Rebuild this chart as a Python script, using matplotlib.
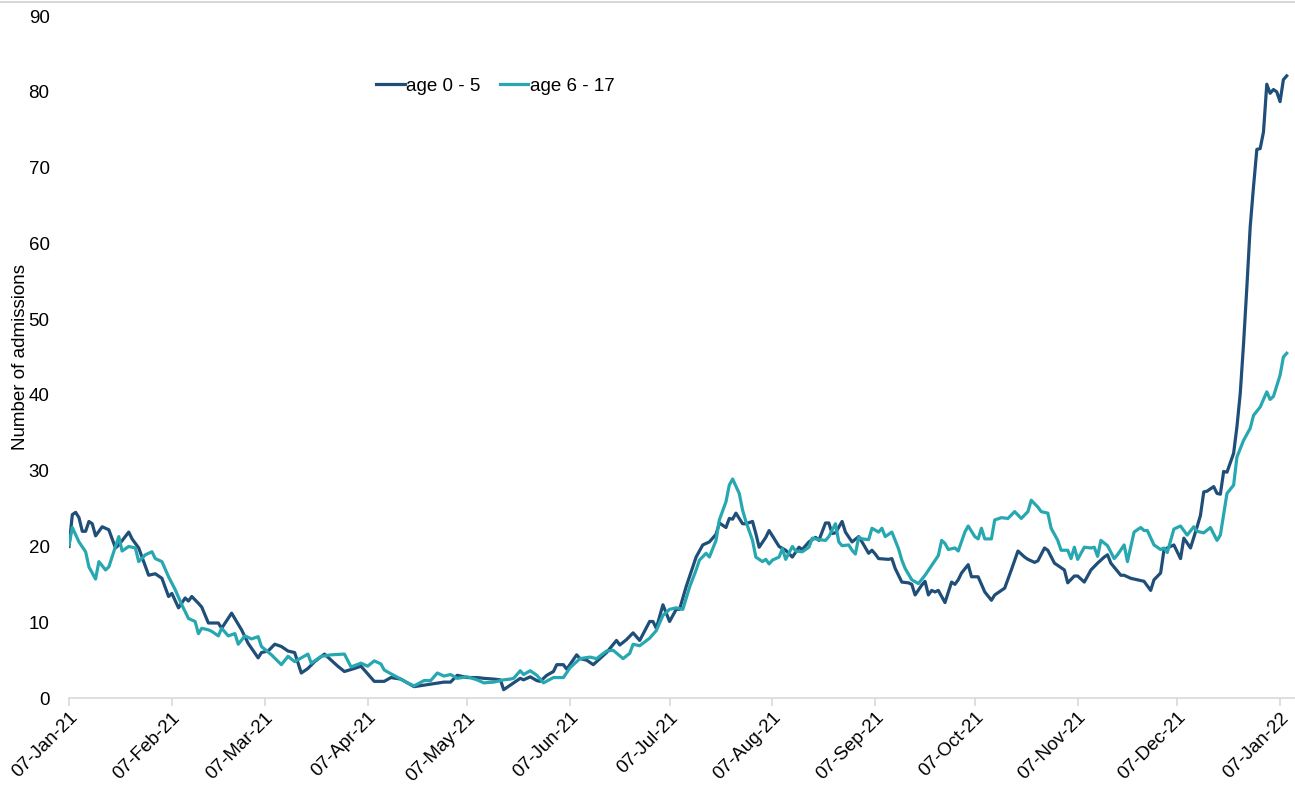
import matplotlib
matplotlib.use("Agg")
import matplotlib.pyplot as plt
import matplotlib.dates as mdates
import pandas as pd

# 날짜: 2021-01-07 기준 경과일
start = pd.Timestamp("2021-01-07")

days_0_5 = [0, 1, 2, 3, 4, 5, 6, 7, 8, 10, 12, 14, 15, 18, 19, 21, 24, 26, 28, 30,
            31, 33, 35, 36, 37, 39, 40, 42, 44, 45, 46, 49, 52, 54, 57, 58, 60, 62, 64, 66,
            68, 70, 72, 74, 77, 79, 81, 83, 86, 88, 90, 92, 95, 97, 100, 102, 104, 107, 110, 113,
            115, 117, 120, 123, 125, 128, 130, 131, 134, 136, 137, 139, 141, 142, 144, 146, 147, 149, 150, 153,
            154, 156, 158, 160, 162, 165, 166, 168, 170, 172, 175, 176, 177, 179, 181, 183, 184, 186, 188, 189,
            191, 193, 195, 196, 198, 199, 200, 201, 203, 204, 206, 207, 208, 210, 211, 213, 214, 216, 218, 220,
            221, 223, 225, 226, 228, 229, 230, 231, 233, 234, 236, 238, 239, 241, 242, 243, 244, 247, 248, 249,
            251, 253, 254, 255, 257, 258, 259, 260, 261, 262, 264, 266, 267, 268, 269, 271, 272, 274, 276, 278,
            279, 281, 282, 284, 286, 288, 289, 291, 292, 294, 295, 297, 300, 301, 303, 304, 306, 308, 310, 312,
            313, 314, 317, 318, 320, 322, 324, 326, 327, 329, 330, 331, 333, 335, 336, 338, 340, 341, 342, 343,
            345, 346, 347, 348, 349, 351, 352, 353, 354, 355, 356, 357, 358, 359, 360, 361, 362, 363, 364, 365,
            366, 367]
age_0_5 = [20.0, 24.2, 24.5, 23.8, 22.0, 22.0, 23.3, 23.0, 21.4, 22.6, 22.2, 19.8, 20.2, 21.9, 21.0, 19.8, 16.2, 16.4, 15.8, 13.4,
           13.8, 11.9, 13.2, 12.8, 13.4, 12.5, 12.0, 9.9, 9.9, 9.9, 9.2, 11.2, 9.0, 7.2, 5.3, 6.0, 6.2, 7.1, 6.8, 6.2,
           6.0, 3.3, 3.9, 4.8, 5.8, 5.0, 4.2, 3.5, 3.9, 4.2, 3.2, 2.2, 2.2, 2.7, 2.5, 2.0, 1.5, 1.7, 1.9, 2.1,
           2.1, 3.0, 2.7, 2.7, 2.6, 2.5, 2.4, 1.1, 2.0, 2.6, 2.4, 2.8, 2.3, 2.2, 3.0, 3.5, 4.4, 4.4, 3.8, 5.7,
           5.2, 5.0, 4.4, 5.2, 6.0, 7.6, 7.0, 7.7, 8.6, 7.6, 10.1, 10.1, 9.2, 12.3, 10.1, 11.7, 11.7, 14.7, 17.3, 18.6,
           20.2, 20.6, 21.6, 23.1, 22.5, 23.7, 23.6, 24.4, 23.0, 23.0, 23.3, 21.7, 19.9, 21.2, 22.1, 20.7, 20.0, 19.5, 18.6, 19.9,
           19.6, 20.6, 21.2, 20.8, 23.1, 23.1, 21.7, 21.8, 23.3, 21.9, 20.6, 21.3, 20.6, 19.1, 19.5, 19.0, 18.4, 18.3, 18.4, 17.1,
           15.3, 15.2, 15.0, 13.6, 14.9, 15.4, 13.6, 14.2, 14.0, 14.2, 12.6, 15.3, 15.0, 15.6, 16.5, 17.6, 16.0, 16.0, 14.0, 12.9,
           13.6, 14.2, 14.5, 16.9, 19.4, 18.6, 18.3, 17.9, 18.1, 19.8, 19.5, 17.8, 16.9, 15.2, 16.1, 16.1, 15.3, 16.9, 17.8, 18.6,
           18.9, 17.8, 16.2, 16.2, 15.8, 15.6, 15.4, 14.2, 15.6, 16.5, 19.5, 19.8, 20.2, 18.4, 21.1, 19.8, 22.6, 24.1, 27.2, 27.3,
           27.9, 27.0, 26.9, 29.9, 29.8, 32.3, 35.8, 40.2, 46.8, 54.3, 62.2, 67.5, 72.4, 72.5, 74.7, 81.0, 79.8, 80.3, 80.0, 78.7,
           81.6, 82.1]

days_6_17 = [0, 1, 3, 5, 6, 8, 9, 11, 12, 14, 15, 16, 18, 20, 21, 23, 25, 26, 28, 30,
             32, 34, 36, 38, 39, 40, 42, 43, 45, 46, 48, 50, 51, 53, 55, 57, 58, 61, 64, 66,
             68, 72, 73, 76, 79, 83, 85, 88, 90, 92, 94, 95, 97, 100, 102, 104, 107, 109, 111, 113,
             115, 117, 120, 123, 125, 128, 131, 133, 134, 136, 137, 139, 141, 143, 146, 149, 151, 154, 157, 159,
             162, 164, 167, 169, 170, 172, 175, 177, 179, 181, 183, 185, 187, 189, 190, 192, 193, 195, 196, 198,
             199, 200, 202, 203, 204, 206, 207, 209, 210, 211, 212, 214, 215, 216, 218, 219, 221, 223, 224, 226,
             228, 229, 231, 232, 233, 235, 236, 237, 238, 239, 241, 242, 244, 245, 246, 248, 250, 251, 252, 254,
             256, 258, 260, 262, 263, 264, 265, 267, 268, 270, 271, 273, 274, 275, 276, 278, 279, 281, 283, 285,
             287, 289, 290, 292, 293, 295, 296, 298, 299, 301, 302, 303, 304, 306, 308, 309, 310, 311, 313, 315,
             316, 318, 319, 321, 323, 324, 325, 327, 329, 330, 331, 333, 335, 337, 339, 340, 342, 344, 346, 347,
             349, 351, 352, 354, 356, 357, 359, 361, 362, 363, 365, 366, 367]
age_6_17 = [20.2, 22.5, 20.6, 19.3, 17.3, 15.7, 18.0, 16.9, 17.3, 20.0, 21.3, 19.4, 20.0, 19.8, 18.0, 18.9, 19.3, 18.4, 18.0, 16.0,
            14.3, 12.3, 10.5, 10.1, 8.5, 9.2, 9.0, 8.8, 8.2, 9.2, 8.2, 8.5, 7.1, 8.2, 7.8, 8.1, 6.8, 5.7, 4.4, 5.5,
            4.8, 5.8, 4.6, 5.5, 5.7, 5.8, 4.1, 4.6, 4.2, 4.9, 4.5, 3.7, 3.2, 2.5, 2.0, 1.6, 2.3, 2.3, 3.3, 2.9,
            3.1, 2.6, 2.8, 2.4, 2.0, 2.1, 2.4, 2.5, 2.6, 3.6, 3.1, 3.6, 3.0, 2.0, 2.7, 2.7, 4.0, 5.2, 5.4, 5.2,
            6.2, 6.3, 5.2, 5.9, 7.1, 6.9, 7.9, 8.9, 10.9, 11.7, 11.9, 11.7, 14.6, 16.9, 18.2, 19.1, 18.6, 20.8, 23.5, 25.9,
            28.1, 28.9, 27.0, 24.8, 23.3, 20.8, 18.6, 18.0, 18.3, 17.7, 18.2, 18.6, 19.7, 18.3, 20.0, 19.4, 19.3, 19.9, 21.1, 20.9,
            20.8, 21.3, 23.0, 20.6, 20.1, 20.2, 19.5, 19.0, 21.2, 21.0, 20.9, 22.4, 21.9, 22.4, 21.3, 21.9, 19.7, 18.2, 17.1, 15.6,
            15.1, 16.2, 17.5, 18.8, 20.8, 20.4, 19.6, 19.8, 19.4, 21.9, 22.7, 21.3, 21.0, 22.4, 21.0, 21.0, 23.5, 23.8, 23.7, 24.6,
            23.7, 24.6, 26.1, 25.2, 24.6, 24.4, 22.4, 20.8, 19.5, 19.5, 18.4, 19.9, 18.3, 19.9, 19.8, 19.9, 18.7, 20.8, 20.1, 18.4,
            18.9, 20.2, 18.0, 21.9, 22.5, 22.1, 22.1, 20.2, 19.6, 19.8, 19.2, 22.3, 22.7, 21.5, 22.6, 22.0, 21.8, 22.5, 20.8, 21.5,
            27.0, 28.1, 31.8, 34.0, 35.6, 37.3, 38.4, 40.4, 39.4, 39.8, 42.6, 45.0, 45.5]

labels = ["age 0 - 5", "age 6 - 17"]
colors = ["#1f4e79", "#27a8b1"]

plt.rcParams['font.family'] = ['Liberation Sans', 'DejaVu Sans']

fig = plt.figure(figsize=(12.95, 7.85), dpi=100)
ax = fig.add_axes([0.0533, 0.1108, 0.9467, 0.8688])

dates_a = start + pd.to_timedelta(days_0_5, unit="D")
dates_b = start + pd.to_timedelta(days_6_17, unit="D")
ax.plot(dates_a, age_0_5, color=colors[0], lw=2.3, label=labels[0])
ax.plot(dates_b, age_6_17, color=colors[1], lw=2.3, label=labels[1])

ax.set_ylim(0, 90)
ax.set_yticks(range(0, 91, 10))
ax.set_xlim(start, start + pd.Timedelta(days=369.5))
ax.xaxis.set_major_locator(mdates.MonthLocator(bymonthday=7))
ax.xaxis.set_major_formatter(mdates.DateFormatter('%d-%b-%y'))

for side in ["top", "right", "left"]:
    ax.spines[side].set_visible(False)
ax.spines["bottom"].set_color("#d9d9d9")
ax.spines["bottom"].set_linewidth(1.2)

ax.tick_params(axis="y", length=0, labelsize=13.5, pad=14)
ax.tick_params(axis="x", length=6, width=1.2, color="#d9d9d9", labelsize=13.5, pad=2)
for lbl in ax.get_xticklabels():
    lbl.set_rotation(45)
    lbl.set_ha("right")
    lbl.set_rotation_mode("anchor")

ax.set_ylabel("Number of admissions", fontsize=13.5, labelpad=0)

ax.legend(loc="upper left", bbox_to_anchor=(0.237, 0.934), ncol=2, frameon=False,
          fontsize=13.5, handlelength=1.5, handletextpad=0.1, columnspacing=1.0)

# 상단 테두리 선
fig.add_artist(plt.Line2D([0, 1], [0.997, 0.997], color="#d0d0d0", lw=1.2))

fig.savefig("out.png", dpi=100)
